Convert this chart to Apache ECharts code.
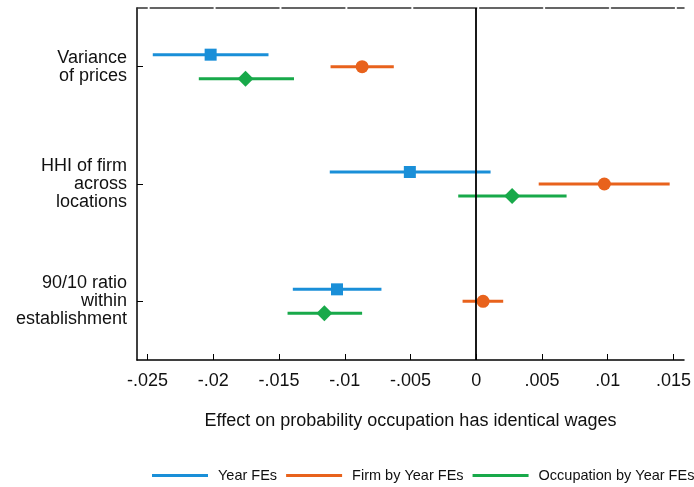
<!DOCTYPE html>
<html>
<head>
<meta charset="utf-8">
<script src="https://cdn.jsdelivr.net/npm/echarts@6/dist/echarts.min.js"></script>
<style>
html, body { margin: 0; padding: 0; background: #fff; }
#chart { width: 694px; height: 487px; }
</style>
</head>
<body>
<div id="chart"></div>
<script>
// categories, top to bottom
var categories = ['Variance\nof prices', 'HHI of firm\nacross\nlocations', '90/10 ratio\nwithin\nestablishment'];
var xTicks = [-0.025, -0.02, -0.015, -0.01, -0.005, 0, 0.005, 0.01, 0.015];
var seriesNames = ['Year FEs', 'Firm by Year FEs', 'Occupation by Year FEs'];

// [estimate, lower CI, upper CI] for each category
var yearFE     = [[-0.0202, -0.0246, -0.0158], [-0.00505, -0.01114, 0.00109], [-0.01059, -0.01395, -0.00721]];
var firmYearFE = [[-0.00868, -0.01108, -0.00627], [0.00974, 0.00475, 0.01471], [0.00052, -0.00104, 0.00205]];
var occYearFE  = [[-0.01755, -0.0211, -0.01386], [0.00273, -0.00137, 0.00687], [-0.01155, -0.01435, -0.00868]];

var FONT = '"Liberation Sans", Arial, Helvetica, sans-serif';
var colors = ['#1a8fd8', '#e8621c', '#18a94a'];
var offsets = [-12, 0, 12];
var markers = ['square', 'circle', 'diamond'];

var myChart = echarts.init(document.getElementById('chart'));

function toRows(arr) {
	return arr.map(function (d, i) { return [i, d[0], d[1], d[2]]; });
}

function makeRender(k) {
	return function (params, api) {
		var cat = api.value(0);
		var pe = api.coord([api.value(1), cat]);
		var pl = api.coord([api.value(2), cat]);
		var ph = api.coord([api.value(3), cat]);
		var y = pe[1] + offsets[k];
		var col = colors[k];
		var children = [{
			type: 'line',
			shape: { x1: pl[0], y1: y, x2: ph[0], y2: y },
			style: { stroke: col, lineWidth: 3 }
		}];
		if (markers[k] === 'square') {
			children.push({ type: 'rect', shape: { x: pe[0] - 6, y: y - 6, width: 12, height: 12 }, style: { fill: col } });
		} else if (markers[k] === 'circle') {
			children.push({ type: 'circle', shape: { cx: pe[0], cy: y, r: 6.5 }, style: { fill: col } });
		} else {
			children.push({ type: 'polygon', shape: { points: [[pe[0], y - 8], [pe[0] + 8, y], [pe[0], y + 8], [pe[0] - 8, y]] }, style: { fill: col } });
		}
		return { type: 'group', children: children };
	};
}

var allData = [yearFE, firmYearFE, occYearFE];
var series = allData.map(function (arr, k) {
	return {
		name: seriesNames[k],
		type: 'custom',
		itemStyle: { color: colors[k] },
		renderItem: makeRender(k),
		encode: { x: [1, 2, 3], y: 0 },
		data: toRows(arr),
		z: 3
	};
});

// vertical line at zero
series.push({
	name: 'zero',
	type: 'line',
	data: [],
	markLine: {
		silent: true,
		symbol: 'none',
		label: { show: false },
		lineStyle: { color: '#000', width: 1.8, type: 'solid' },
		data: [{ xAxis: 0 }]
	}
});

var option = {
	animation: false,
	backgroundColor: '#fff',
	textStyle: { fontFamily: FONT },
	grid: { left: 137, right: 7, top: 8, bottom: 127, containLabel: false },
	legend: {
		data: seriesNames,
		left: 152,
		top: 468,
		width: 600,
		padding: 0,
		icon: 'rect',
		itemWidth: 56,
		itemHeight: 3,
		itemGap: 9,
		textStyle: { fontFamily: FONT, fontSize: 14.5, color: '#111', padding: [0, 0, 0, 5] }
	},
	xAxis: [{
		type: 'value',
		min: -0.0258,
		max: 0.0158,
		position: 'bottom',
		name: 'Effect on probability occupation has identical wages',
		nameLocation: 'middle',
		nameGap: 52,
		nameTextStyle: { fontFamily: FONT, fontSize: 18, color: '#111' },
		axisLine: { show: true, onZero: false, lineStyle: { color: '#000', width: 1.5 } },
		axisTick: { show: true, inside: true, length: 6, customValues: xTicks, lineStyle: { color: '#000' } },
		axisLabel: {
			customValues: xTicks,
			fontFamily: FONT, fontSize: 18, color: '#111', margin: 12,
			formatter: function (v) { return String(+v.toFixed(4)).replace('0.', '.'); }
		},
		splitLine: { show: false }
	}, {
		type: 'value',
		min: -0.0258,
		max: 0.0158,
		position: 'top',
		axisLine: { show: true, onZero: false, lineStyle: { color: '#333', width: 1.5, type: [62.9, 3], dashOffset: 52.7 } },
		axisTick: { show: false },
		axisLabel: { show: false },
		splitLine: { show: false }
	}],
	yAxis: {
		type: 'category',
		data: categories,
		inverse: true,
		boundaryGap: true,
		axisLine: { show: true, onZero: false, lineStyle: { color: '#000', width: 1.5 } },
		axisTick: { show: true, inside: true, alignWithLabel: true, length: 6, lineStyle: { color: '#000' } },
		axisLabel: { fontFamily: FONT, fontSize: 18, lineHeight: 18, color: '#111', align: 'right', margin: 10 },
		splitLine: { show: false }
	},
	series: series
};

myChart.setOption(option);
</script>
</body>
</html>
